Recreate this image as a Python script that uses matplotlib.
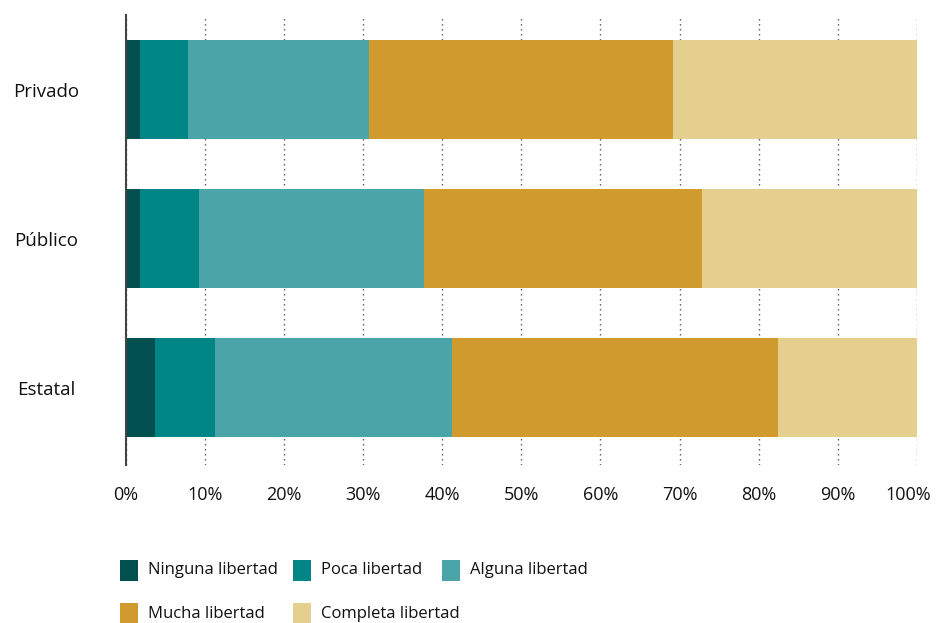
import matplotlib
matplotlib.use("Agg")
import matplotlib.pyplot as plt
import matplotlib.transforms as mtransforms
from matplotlib.patches import Rectangle
import numpy as np

plt.rcParams['font.family'] = ['Open Sans', 'DejaVu Sans']

categories = ["Privado", "Público", "Estatal"]
series_names = ["Ninguna libertad", "Poca libertad", "Alguna libertad",
                "Mucha libertad", "Completa libertad"]
ninguna = [1.8, 1.8, 3.7]
poca = [6.1, 7.5, 7.6]
alguna = [22.9, 28.4, 29.9]
mucha = [38.4, 35.1, 41.2]
completa = [30.8, 27.2, 17.6]
colors = ["#024f50", "#008586", "#4ba4a8", "#d09a2e", "#e4cf8f"]
xticks = [0, 10, 20, 30, 40, 50, 60, 70, 80, 90, 100]
xtick_labels = [f"{t}%" for t in xticks]

W, H = 936, 623
fig = plt.figure(figsize=(W / 100, H / 100), dpi=100)
ax = fig.add_axes([125.7 / W, 1 - 465 / H, (917 - 125.7) / W, (465 - 15) / H])

y = np.arange(len(categories))
left = np.zeros(len(categories))
for name, vals, c in zip(series_names, [ninguna, poca, alguna, mucha, completa], colors):
    ax.barh(y, vals, left=left, height=0.66, color=c, label=name, zorder=2)
    left = left + np.array(vals)

ax.set_xlim(0, 100)
ax.set_ylim(2.52, -0.5)
ax.set_yticks(y)
ax.set_yticklabels(categories, fontsize=13.5)
ax.set_xticks(xticks)
ax.set_xticklabels(xtick_labels, fontsize=13)
ax.tick_params(axis='both', length=0, colors='#111111')
ax.tick_params(axis='x', pad=15)
ax.tick_params(axis='y', pad=12)
for lbl in ax.get_yticklabels():
    lbl.set_horizontalalignment('center')
    lbl.set_x(-0.079)
last = ax.get_xticklabels()[-1]
last.set_transform(last.get_transform() + mtransforms.ScaledTranslation(-9 / 100, 0, fig.dpi_scale_trans))
ax.xaxis.grid(True, linestyle=(0, (1.0, 2.6)), color='#555555', linewidth=1.0, zorder=0)
ax.set_axisbelow(True)
for s in ['top', 'right', 'bottom']:
    ax.spines[s].set_visible(False)
ax.spines['left'].set_color('#444444')
ax.spines['left'].set_linewidth(1.5)
ax.spines['left'].set_zorder(3)

# legend laid out as in the reference (two rows, flowing)
legend_slots = [(120, 570.5), (293, 570.5), (442, 570.5), (120, 613.5), (293, 613.5)]
sw, sh = 18, 21
for (px, py), name, c in zip(legend_slots, series_names, colors):
    fig.patches.append(Rectangle((px / W, 1 - (py + sh / 2) / H), sw / W, sh / H,
                                 transform=fig.transFigure, facecolor=c, edgecolor='none'))
    fig.text((px + 28) / W, 1 - py / H, name, fontsize=12, va='center', ha='left', color='#111111')

fig.savefig("out.png", dpi=100)
